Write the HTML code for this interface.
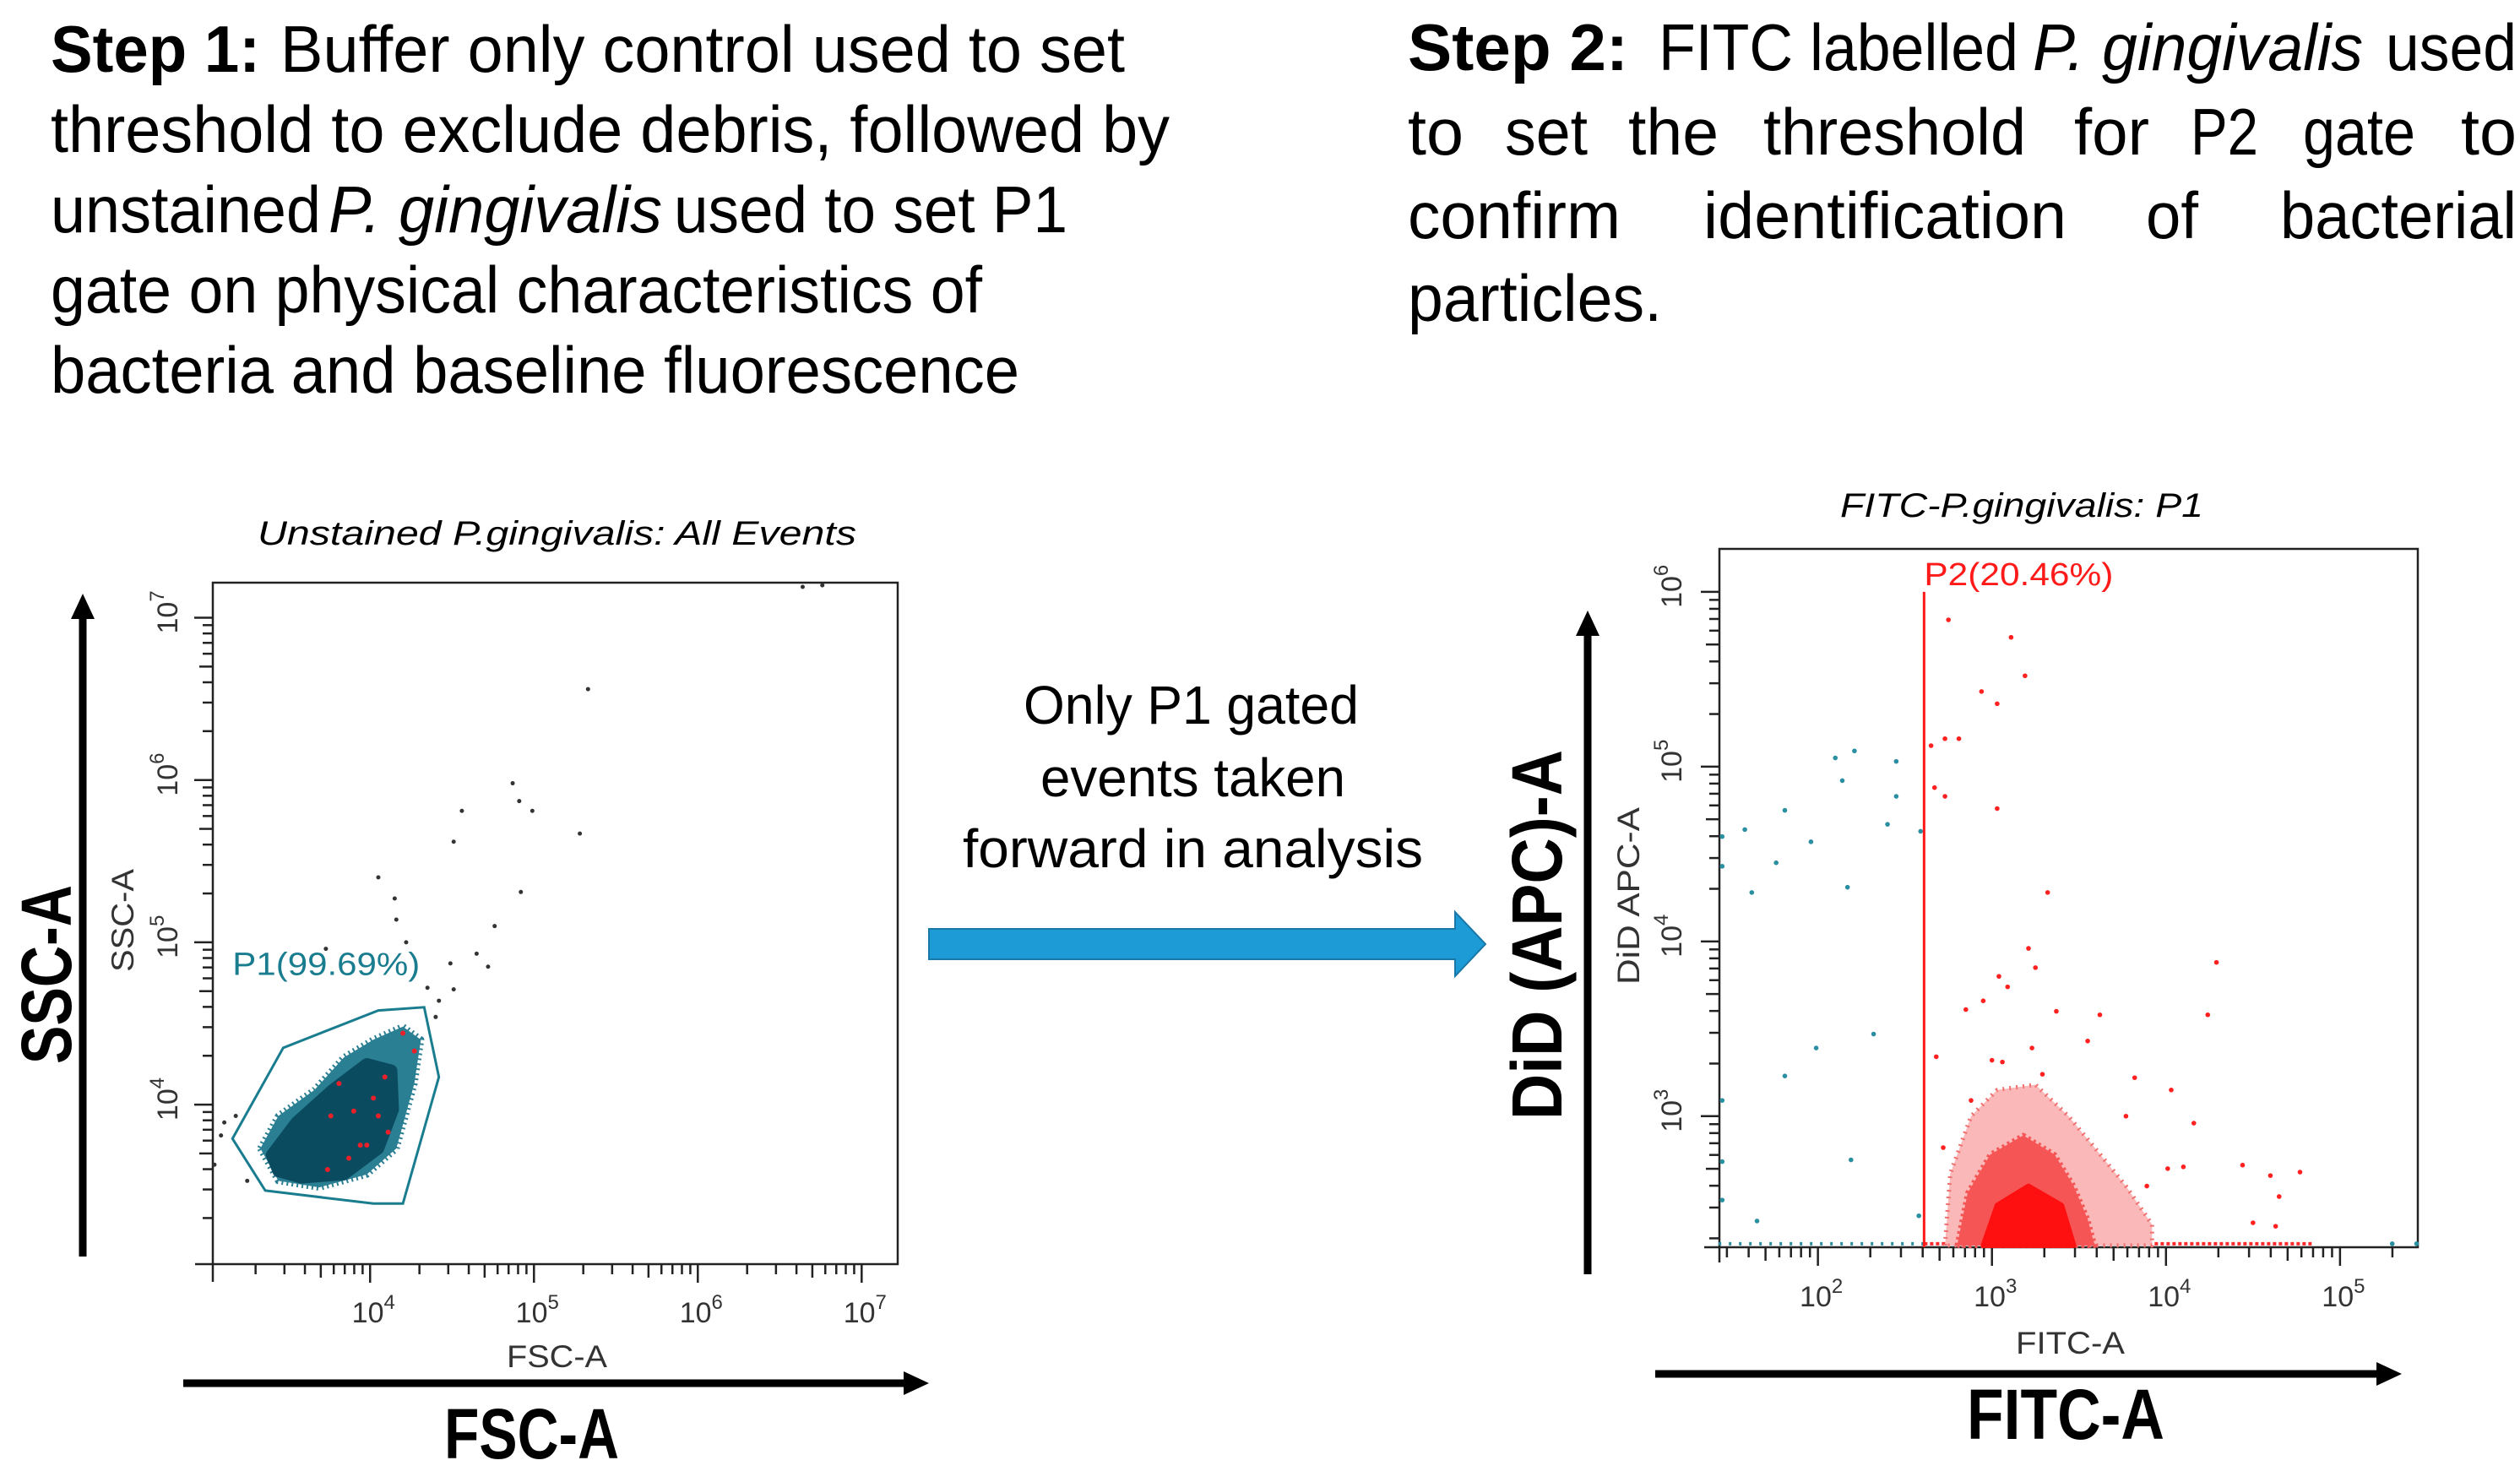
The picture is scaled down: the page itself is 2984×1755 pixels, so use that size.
<!DOCTYPE html>
<html><head><meta charset="utf-8"><style>
html,body{margin:0;padding:0;background:#fff}
svg{display:block}
.t{font-family:"Liberation Sans",sans-serif;fill:#000}
.p{font-family:"Liberation Sans",sans-serif;fill:#333}
</style></head><body>
<svg id="fig" width="2984" height="1755" viewBox="0 0 2984 1755" xmlns="http://www.w3.org/2000/svg">
<g class="t" font-size="78">
<text x="60" y="85" textLength="248" lengthAdjust="spacingAndGlyphs" font-weight="bold">Step 1:</text>
<text x="332" y="85" textLength="1000" lengthAdjust="spacingAndGlyphs">Buffer only control used to set</text>
<text x="60" y="180" textLength="1325" lengthAdjust="spacingAndGlyphs">threshold to exclude debris, followed by</text>
<text x="60" y="275" textLength="320" lengthAdjust="spacingAndGlyphs">unstained</text>
<text x="389" y="275" textLength="395" lengthAdjust="spacingAndGlyphs" font-style="italic">P. gingivalis</text>
<text x="798" y="275" textLength="466" lengthAdjust="spacingAndGlyphs">used to set P1</text>
<text x="60" y="370" textLength="1103" lengthAdjust="spacingAndGlyphs">gate on physical characteristics of</text>
<text x="60" y="465" textLength="1147" lengthAdjust="spacingAndGlyphs">bacteria and baseline fluorescence</text>
</g>
<g class="t" font-size="78">
<text x="1667" y="83" textLength="261" lengthAdjust="spacingAndGlyphs" font-weight="bold">Step 2:</text>
<text x="1964" y="83" textLength="426" lengthAdjust="spacingAndGlyphs">FITC labelled</text>
<text x="2407" y="83" textLength="391" lengthAdjust="spacingAndGlyphs" font-style="italic">P. gingivalis</text>
<text x="2825" y="83" textLength="155" lengthAdjust="spacingAndGlyphs">used</text>
<text x="1667" y="183" textLength="66" lengthAdjust="spacingAndGlyphs">to</text>
<text x="1782" y="183" textLength="98" lengthAdjust="spacingAndGlyphs">set</text>
<text x="1928" y="183" textLength="107" lengthAdjust="spacingAndGlyphs">the</text>
<text x="2088" y="183" textLength="311" lengthAdjust="spacingAndGlyphs">threshold</text>
<text x="2456" y="183" textLength="89" lengthAdjust="spacingAndGlyphs">for</text>
<text x="2594" y="183" textLength="80" lengthAdjust="spacingAndGlyphs">P2</text>
<text x="2727" y="183" textLength="133" lengthAdjust="spacingAndGlyphs">gate</text>
<text x="2914" y="183" textLength="66" lengthAdjust="spacingAndGlyphs">to</text>
<text x="1667" y="282" textLength="252" lengthAdjust="spacingAndGlyphs">confirm</text>
<text x="2017" y="282" textLength="430" lengthAdjust="spacingAndGlyphs">identification</text>
<text x="2541" y="282" textLength="62" lengthAdjust="spacingAndGlyphs">of</text>
<text x="2700" y="282" textLength="280" lengthAdjust="spacingAndGlyphs">bacterial</text>
<text x="1667" y="380" textLength="301" lengthAdjust="spacingAndGlyphs">particles.</text>
</g>
<g class="t" font-size="64">
<text x="1212" y="857" textLength="397" lengthAdjust="spacingAndGlyphs">Only P1 gated</text>
<text x="1232" y="943" textLength="361" lengthAdjust="spacingAndGlyphs">events taken</text>
<text x="1140" y="1027" textLength="545" lengthAdjust="spacingAndGlyphs">forward in analysis</text>
</g>
<polygon points="1100,1100 1723,1100 1723,1080 1759,1118 1723,1156 1723,1136 1100,1136" fill="#1c9bd7" stroke="#1a78a8" stroke-width="2"/>

<g>
<line x1="98" y1="1488" x2="98" y2="728" stroke="#000" stroke-width="9"/>
<polygon points="98,703 84,733 112,733" fill="#000"/>
<line x1="217" y1="1638" x2="1072" y2="1638" stroke="#000" stroke-width="9"/>
<polygon points="1100,1638 1070,1624 1070,1652" fill="#000"/>
<text class="t" font-weight="bold" font-size="84" transform="translate(84,1260) rotate(-90)" textLength="212" lengthAdjust="spacingAndGlyphs">SSC-A</text>
<text class="t" font-weight="bold" font-size="84" x="526" y="1727" textLength="207" lengthAdjust="spacingAndGlyphs">FSC-A</text>
</g>
<g>
<line x1="1880" y1="1509" x2="1880" y2="748" stroke="#000" stroke-width="9"/>
<polygon points="1880,723 1866,753 1894,753" fill="#000"/>
<line x1="1960" y1="1627" x2="2816" y2="1627" stroke="#000" stroke-width="9"/>
<polygon points="2844,1627 2814,1613 2814,1641" fill="#000"/>
<text class="t" font-weight="bold" font-size="84" transform="translate(1849,1326) rotate(-90)" textLength="438" lengthAdjust="spacingAndGlyphs">DiD (APC)-A</text>
<text class="t" font-weight="bold" font-size="84" x="2329" y="1704" textLength="234" lengthAdjust="spacingAndGlyphs">FITC-A</text>
</g>

<text class="t" font-style="italic" font-size="40" x="305" y="645" textLength="709" lengthAdjust="spacingAndGlyphs">Unstained P.gingivalis: All Events</text>
<text class="t" font-style="italic" font-size="40" x="2179" y="612" textLength="430" lengthAdjust="spacingAndGlyphs">FITC-P.gingivalis: P1</text>
<text class="p" font-size="37" x="600" y="1619" textLength="119" lengthAdjust="spacingAndGlyphs">FSC-A</text>
<text class="p" font-size="37" transform="translate(158,1151) rotate(-90)" textLength="122" lengthAdjust="spacingAndGlyphs">SSC-A</text>
<text class="p" font-size="37" x="2387" y="1603" textLength="129" lengthAdjust="spacingAndGlyphs">FITC-A</text>
<text class="p" font-size="37" transform="translate(1941,1166) rotate(-90)" textLength="210" lengthAdjust="spacingAndGlyphs">DiD APC-A</text>

<g id="left-plot"></g>
<g id="right-plot"></g>
</svg>
<script>
const leftXTicks = [4, 5, 6, 7];
const leftYTicks = [4, 5, 6, 7];
const leftGateX = [3.16, 3.47, 4.05, 4.33, 4.42, 4.20, 4.02, 3.36];
const leftGateY = [3.79, 4.35, 4.58, 4.60, 4.17, 3.39, 3.39, 3.47];
const leftFringeX = [3.33, 3.44, 3.66, 3.84, 4.02, 4.20, 4.31, 4.27, 4.16, 3.98, 3.69, 3.44];
const leftFringeY = [3.73, 3.93, 4.09, 4.29, 4.40, 4.48, 4.40, 4.13, 3.73, 3.57, 3.49, 3.53];
const leftCoreX = [3.40, 3.55, 3.77, 3.98, 4.13, 4.14, 4.05, 3.84, 3.58, 3.44];
const leftCoreY = [3.69, 3.89, 4.09, 4.25, 4.21, 3.97, 3.73, 3.57, 3.55, 3.59];
const leftDotX = [6.76, 6.64, 5.33, 4.87, 4.91, 4.99, 4.56, 4.51, 5.28, 4.92, 4.05, 4.15, 4.16, 4.22, 4.76, 4.65, 4.72, 4.49, 4.51, 3.73, 4.35, 4.42, 4.40, 3.09, 3.11, 3.05, 3.18, 3.25];
const leftDotY = [7.20, 7.19, 6.56, 5.98, 5.87, 5.81, 5.81, 5.62, 5.67, 5.31, 5.40, 5.27, 5.14, 5.00, 5.10, 4.93, 4.85, 4.87, 4.71, 4.96, 4.72, 4.64, 4.54, 3.81, 3.89, 3.63, 3.93, 3.53];
const leftRedX = [3.81, 3.90, 4.02, 4.09, 3.76, 3.98, 3.87, 3.94, 4.11, 4.27, 4.20, 3.74, 4.05];
const leftRedY = [4.13, 3.96, 4.04, 4.17, 3.93, 3.75, 3.67, 3.75, 3.83, 4.33, 4.44, 3.60, 3.93];
const leftGateLabel = "P1(99.69%)";
const leftLabelPos = [3.16, 4.80];

const rightXTicks = [2, 3, 4, 5];
const rightYTicks = [3, 4, 5, 6];
const rightGateX = [2.61];
const rightGateTop = [6.0];
const rightGateLabel = "P2(20.46%)";
const rightRedX = [2.75, 3.11, 3.19, 2.94, 3.03, 2.65, 2.73, 2.81, 2.67, 2.73, 3.03, 3.32, 3.21, 3.25, 3.04, 3.09, 2.85, 2.95, 3.37, 3.55, 3.62, 4.24, 4.29, 2.68, 3.00, 3.06, 3.23, 3.29, 3.82, 4.03, 4.16, 3.77, 4.44, 4.60, 4.77, 4.65, 4.50, 4.63, 4.10, 4.01, 3.89, 2.72, 2.88];
const rightRedY = [5.84, 5.74, 5.52, 5.43, 5.36, 5.12, 5.16, 5.16, 4.88, 4.83, 4.76, 4.28, 3.96, 3.85, 3.80, 3.74, 3.61, 3.66, 3.60, 3.43, 3.58, 3.58, 3.88, 3.34, 3.32, 3.31, 3.39, 3.24, 3.22, 3.15, 2.96, 3.00, 2.72, 2.66, 2.68, 2.54, 2.39, 2.37, 2.71, 2.70, 2.60, 2.82, 3.09];
const rightBlueX = [2.10, 2.21, 2.14, 2.45, 2.45, 2.40, 2.59, 1.81, 1.96, 1.76, 1.58, 1.62, 1.45, 1.45, 2.17, 2.32, 1.99, 1.81, 2.19, 1.65, 2.58, 1.45, 1.45, 1.45, 5.30, 5.44];
const rightBlueY = [5.05, 5.09, 4.92, 5.03, 4.83, 4.67, 4.63, 4.75, 4.57, 4.45, 4.64, 4.28, 4.60, 4.43, 4.31, 3.47, 3.39, 3.23, 2.75, 2.40, 2.43, 3.09, 2.74, 2.52, 2.27, 2.27];
const rightOuterX = [2.73, 2.76, 2.88, 3.03, 3.25, 3.44, 3.59, 3.77, 3.92, 3.92];
const rightOuterY = [2.26, 2.67, 3.00, 3.15, 3.18, 3.00, 2.82, 2.60, 2.38, 2.26];
const rightMidX = [2.80, 2.86, 2.99, 3.18, 3.36, 3.47, 3.55, 3.59];
const rightMidY = [2.26, 2.56, 2.78, 2.89, 2.78, 2.60, 2.41, 2.26];
const rightCoreX = [2.95, 3.03, 3.21, 3.40, 3.47];
const rightCoreY = [2.26, 2.49, 2.60, 2.49, 2.26];
const rightRedBaseline = [2.61, 4.85];
const rightBlueBaseline = [1.43, 2.61];

const NS = "http://www.w3.org/2000/svg";
function mk(tag, attrs, parent) {
  const e = document.createElementNS(NS, tag);
  for (const k in attrs) e.setAttribute(k, attrs[k]);
  parent.appendChild(e);
  return e;
}
function scale(d0, d1, p0, p1) { return v => p0 + (v - d0) / (d1 - d0) * (p1 - p0); }

function axes(g, sx, sy, box, xt, yt, xDom, yDom, opt) {
  const r = mk("rect", {x: box.l, y: box.t, width: box.r - box.l, height: box.b - box.t, fill: "none", stroke: "#222", "stroke-width": 2.5}, g);
  
  
  mk("line", {x1: box.l - opt.ext, y1: box.b, x2: box.l, y2: box.b, stroke: "#222", "stroke-width": 2.5}, g);
  mk("line", {x1: box.l, y1: box.b, x2: box.l, y2: box.b + opt.ext, stroke: "#222", "stroke-width": 2.5}, g);
  for (let d = Math.floor(xDom[0]); d <= xDom[1]; d++) {
    for (let k = 1; k <= 9; k++) {
      const v = d + Math.log10(k);
      if (v < xDom[0] || v > xDom[1]) continue;
      const x = sx(v);
      const len = k === 1 ? 22 : (k === 5 ? 16 : 12);
      mk("line", {x1: x, y1: box.b, x2: x, y2: box.b + len, stroke: "#222", "stroke-width": 2.5}, g);
    }
  }
  for (let d = Math.floor(yDom[0]); d <= yDom[1]; d++) {
    for (let k = 1; k <= 9; k++) {
      const v = d + Math.log10(k);
      if (v < yDom[0] || v > yDom[1]) continue;
      const y = sy(v);
      const len = k === 1 ? 22 : (k === 5 ? 16 : 12);
      mk("line", {x1: box.l - len, y1: y, x2: box.l, y2: y, stroke: "#222", "stroke-width": 2.5}, g);
    }
  }
  xt.forEach(v => {
    const t = mk("text", {x: sx(v) + 4, y: opt.xLabY, "text-anchor": "middle", class: "p", "font-size": 34}, g);
    
    
    t.textContent = "10";
    const s = mk("tspan", {dy: -16, "font-size": 24}, t); s.textContent = String(v);
  });
  yt.forEach(v => {
    const t = mk("text", {transform: "translate(" + opt.yLabX + "," + (sy(v) + 19) + ") rotate(-90)", class: "p", "font-size": 34}, g);
    
    
    t.textContent = "10";
    const s = mk("tspan", {dy: -16, "font-size": 24}, t); s.textContent = String(v);
  });
}
function poly(g, xs, ys, sx, sy) {
  return xs.map((v, i) => sx(v).toFixed(1) + "," + sy(ys[i]).toFixed(1)).join(" ");
}

(function () {
  const g = document.getElementById("left-plot");
  const box = {l: 252, r: 1063, t: 690, b: 1497};
  const xDom = [3.04, 7.22], yDom = [3.017, 7.216];
  const sx = scale(xDom[0], xDom[1], box.l, box.r);
  const sy = scale(yDom[0], yDom[1], box.b, box.t);
  axes(g, sx, sy, box, leftXTicks, leftYTicks, xDom, yDom, {ext: 21, xLabY: 1566, yLabX: 210});
  const fr = mk("polygon", {points: poly(g, leftFringeX, leftFringeY, sx, sy), fill: "#2a7f92", stroke: "#2a7f92", "stroke-width": 8, "stroke-linejoin": "round", "stroke-dasharray": "2 4"}, g);
  
  
  const co = mk("polygon", {points: poly(g, leftCoreX, leftCoreY, sx, sy), fill: "#0b4b60", stroke: "#0b4b60", "stroke-width": 14, "stroke-linejoin": "round"}, g);
  
  
  leftDotX.forEach((v, i) => {
    const c = mk("circle", {cx: sx(v), cy: sy(leftDotY[i]), r: 2.5, fill: "#333"}, g);
    
    
  });
  leftRedX.forEach((v, i) => {
    const c = mk("circle", {cx: sx(v), cy: sy(leftRedY[i]), r: 3, fill: "#e8202a"}, g);
    
    
  });
  const gate = mk("polygon", {points: poly(g, leftGateX, leftGateY, sx, sy), fill: "none", stroke: "#1a7d8f", "stroke-width": 3}, g);
  
  
  const lab = mk("text", {x: sx(leftLabelPos[0]), y: sy(leftLabelPos[1]), class: "p", "font-size": 38, style: "fill:#1a7d8f", textLength: 222, lengthAdjust: "spacingAndGlyphs"}, g);
  
  
  lab.textContent = leftGateLabel;
})();

(function () {
  const g = document.getElementById("right-plot");
  const box = {l: 2036, r: 2863, t: 650, b: 1477};
  const xDom = [1.434, 5.447], yDom = [2.25, 6.246];
  const sx = scale(xDom[0], xDom[1], box.l, box.r);
  const sy = scale(yDom[0], yDom[1], box.b, box.t);
  axes(g, sx, sy, box, rightXTicks, rightYTicks, xDom, yDom, {ext: 18, xLabY: 1547, yLabX: 1991});
  const yb = sy(2.27);
  const bb = mk("line", {x1: sx(rightBlueBaseline[0]), y1: yb, x2: sx(rightBlueBaseline[1]), y2: yb, stroke: "#2a8fa0", "stroke-width": 4, "stroke-dasharray": "3 9"}, g);
  
  
  const rb = mk("line", {x1: sx(rightRedBaseline[0]), y1: yb, x2: sx(rightRedBaseline[1]), y2: yb, stroke: "#ff2a2a", "stroke-width": 4, "stroke-dasharray": "4 3"}, g);
  
  
  const o = mk("polygon", {points: poly(g, rightOuterX, rightOuterY, sx, sy), fill: "#fbb8b8", stroke: "#f07070", "stroke-width": 5, "stroke-linejoin": "round", "stroke-dasharray": "2 6"}, g);
  
  
  const m = mk("polygon", {points: poly(g, rightMidX, rightMidY, sx, sy), fill: "#f55555", stroke: "#f55555", "stroke-width": 6, "stroke-linejoin": "round", "stroke-dasharray": "3 4"}, g);
  
  
  const c = mk("polygon", {points: poly(g, rightCoreX, rightCoreY, sx, sy), fill: "#ff1010", stroke: "#ff1010", "stroke-width": 6, "stroke-linejoin": "round"}, g);
  
  
  rightRedX.forEach((v, i) => {
    const d = mk("circle", {cx: sx(v), cy: sy(rightRedY[i]), r: 2.8, fill: "#ff2020"}, g);
    
    
  });
  rightBlueX.forEach((v, i) => {
    const d = mk("circle", {cx: sx(v), cy: sy(rightBlueY[i]), r: 2.8, fill: "#2a8fa0"}, g);
    
    
  });
  const gx = sx(rightGateX[0]);
  const gl = mk("line", {x1: gx, y1: sy(rightGateTop[0]), x2: gx, y2: box.b, stroke: "#ff1a1a", "stroke-width": 3}, g);
  
  
  const lab = mk("text", {x: gx, y: 693, class: "p", "font-size": 38, style: "fill:#ff1a1a", textLength: 224, lengthAdjust: "spacingAndGlyphs"}, g);
  
  
  lab.textContent = rightGateLabel;
})();
</script>
</body></html>
